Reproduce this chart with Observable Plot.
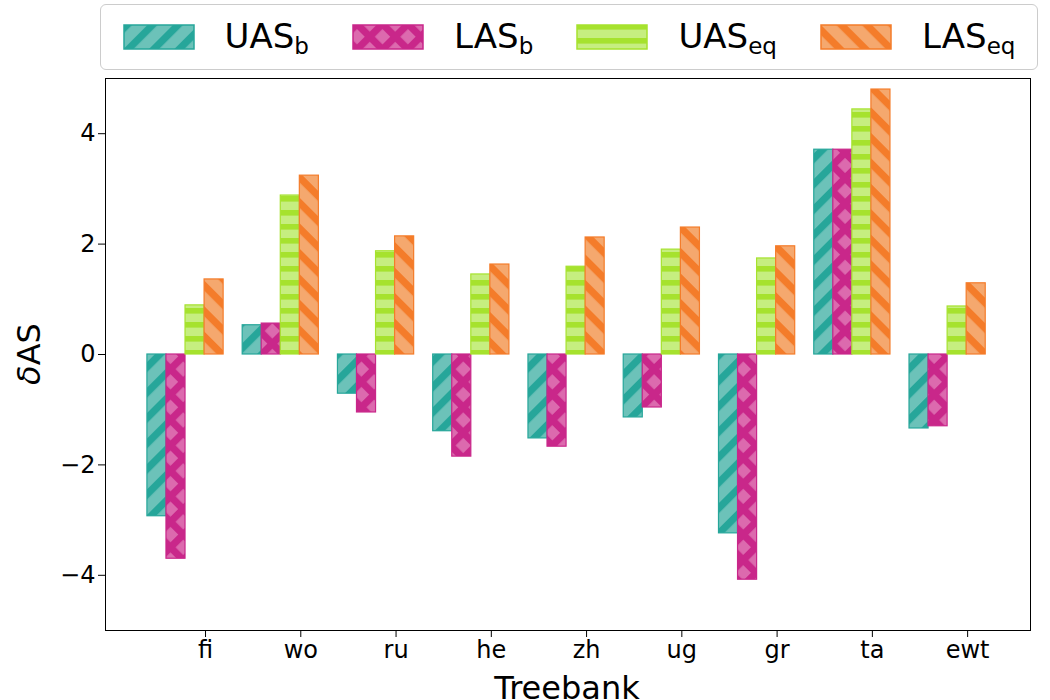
<!DOCTYPE html>
<html><head><meta charset="utf-8">
<script src="https://cdn.jsdelivr.net/npm/d3@7"></script>
<script src="https://cdn.jsdelivr.net/npm/@observablehq/plot@0.6"></script>
<style>
body{margin:0;background:#fff;font-family:"DejaVu Sans",sans-serif;}
#wrap{position:relative;width:1050px;height:700px;}
#legend{position:absolute;left:100px;top:4px;width:938px;height:66px;border:1px solid #ccc;border-radius:6px;background:#fff;display:flex;align-items:center;justify-content:space-around;font-size:34px;box-sizing:border-box;z-index:2}
.it{display:flex;align-items:center;gap:30px}
.sw{width:72px;height:26px}
sub{font-size:23px;vertical-align:-6px}
</style></head><body>
<div id="wrap"><div id="legend"></div><div id="chart"></div></div>
<script>
const treebanks = ["fi","wo","ru","he","zh","ug","gr","ta","ewt"];
const seriesNames = ["UASb","LASb","UASeq","LASeq"];
const uasB  = [-2.93, 0.53, -0.71, -1.39, -1.52, -1.14, -3.24, 3.71, -1.34];
const lasB  = [-3.70, 0.56, -1.05, -1.85, -1.67, -0.96, -4.08, 3.71, -1.30];
const uasEq = [0.89, 2.88, 1.87, 1.45, 1.59, 1.90, 1.74, 4.44, 0.87];
const lasEq = [1.36, 3.24, 2.14, 1.63, 2.12, 2.30, 1.96, 4.80, 1.29];
const yTicks = [-4,-2,0,2,4];
const colors = ["#26a69a","#c9278a","#a6e22e","#f47c2a"];
const lightFill = ["#6cc2b9","#dc6aae","#c6ee80","#f5a86e"];

const series=[uasB,lasB,uasEq,lasEq];
const rows=[];
series.forEach((vals,j)=>vals.forEach((v,i)=>{
  const g=i+1;
  rows.push({s:j,x1:g-0.56+j*0.2,x2:g-0.36+j*0.2,v});
}));
const tickXs=treebanks.map((t,i)=>i+1.05);

const plot=Plot.plot({
  width:1050,height:700,marginLeft:105,marginRight:20,marginTop:78,marginBottom:70,
  style:{fontFamily:"DejaVu Sans",fontSize:"24px",background:"white"},
  x:{domain:[0,9.71]},
  y:{domain:[-5,5]},
  marks:[
    Plot.rect(rows,{x1:"x1",x2:"x2",y1:0,y2:"v",fill:d=>`url(#pat${d.s})`,stroke:d=>colors[d.s],strokeWidth:1.2}),
    Plot.axisY({ticks:yTicks,tickFormat:d=>d<0?"\u2212"+Math.abs(d):d,fontSize:24,tickSize:7,label:null}),
    Plot.axisX({ticks:tickXs,tickFormat:(d,i)=>treebanks[i],fontSize:24,tickSize:7,label:null}),
    Plot.frame({stroke:"black"})
  ]
});
const ns="http://www.w3.org/2000/svg";
const defs=document.createElementNS(ns,"defs");
const pats=[{rot:-45,cross:false},{rot:-45,cross:true},{rot:0,cross:false},{rot:45,cross:false}];
pats.forEach((p,j)=>{
  const pat=document.createElementNS(ns,"pattern");
  const sz=j==2?14:18;
  pat.setAttribute("id","pat"+j);pat.setAttribute("patternUnits","userSpaceOnUse");
  pat.setAttribute("width",sz);pat.setAttribute("height",sz);
  if(p.rot) pat.setAttribute("patternTransform",`rotate(${p.rot})`);
  pat.innerHTML=`<rect width="${sz}" height="${sz}" fill="${lightFill[j]}"/>`+
   `<rect x="0" y="0" width="${sz}" height="${sz*0.4}" fill="${colors[j]}"/>`+
   (p.cross?`<rect x="0" y="0" width="${sz*0.4}" height="${sz}" fill="${colors[j]}"/>`:"");
  defs.appendChild(pat);
});
plot.insertBefore(defs,plot.firstChild);
const lab=(x,y,t,rot)=>{const e=document.createElementNS(ns,"text");e.setAttribute("x",x);e.setAttribute("y",y);
  e.setAttribute("text-anchor","middle");e.setAttribute("font-size","32");e.setAttribute("font-family","DejaVu Sans");
  if(rot)e.setAttribute("transform",`rotate(-90 ${x} ${y})`);e.innerHTML=t;plot.appendChild(e);};
lab(567,699,"Treebank");
lab(40,354,'<tspan font-style="italic">δ</tspan>AS',true);
document.getElementById("chart").appendChild(plot);
const lg=document.getElementById("legend");
const names=[["UAS","b"],["LAS","b"],["UAS","eq"],["LAS","eq"]];
names.forEach(([a,b],j)=>{
  const it=document.createElement("div");it.className="it";
  it.innerHTML=`<svg class="sw" viewBox="0 0 72 26"><defs>${defs.children[j].outerHTML.replace('id="pat'+j+'"','id="lp'+j+'"')}</defs><rect x="1" y="1" width="70" height="24" fill="url(#lp${j})" stroke="${colors[j]}" stroke-width="1.5"/></svg><span>${a}<sub>${b}</sub></span>`;
  lg.appendChild(it);
});
</script></body></html>
